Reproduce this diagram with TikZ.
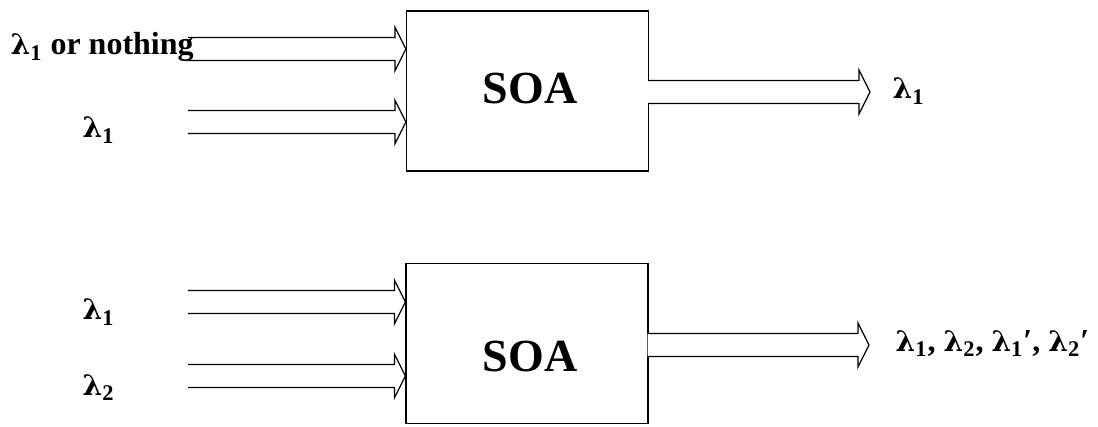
\documentclass[tikz,border=0pt]{standalone}
\usepackage{fontspec}
\setmainfont{Liberation Serif}
\newfontfamily\lamfont{DejaVu Serif}[Scale=0.88]
\newcommand{\lam}[1]{{\lamfont λ}\textsubscript{#1}}
\usetikzlibrary{calc}

% hollow arrow: body from #2 to the tip #3
\newcommand{\fatarrow}[3][]{%
  \draw[#1] ($(#2)+(0,-11.5)$) -- ($(#3)+(-11,-11.5)$) -- ($(#3)+(-11,-22)$) -- (#3)
    -- ($(#3)+(-11,22)$) -- ($(#3)+(-11,11.5)$) -- ($(#2)+(0,11.5)$);%
}

\begin{document}
\begin{tikzpicture}[x=0.5pt, y=-0.5pt, line width=0.6pt,
    soabox/.style={draw, minimum width=121pt, minimum height=80pt, inner sep=0pt},
    soatext/.style={font=\bfseries\fontsize{23}{26}\selectfont},
    lab/.style={font=\bfseries\fontsize{16}{18}\selectfont, inner sep=0pt}]
    \useasboundingbox (0,0) rectangle (1098,427);

    % Amplifiers
    \node[soabox] (soa1) at (527.5,91) {};
    \node[soabox] (soa2) at (527,343.5) {};
    \node[soatext] (name1) at (530,88) {SOA};
    \node[soatext] (name2) at (530,356) {SOA};

    % Input labels
    \node[lab, anchor=base west] (lin1) at (10,55) {\lam{1} or nothing};
    \node[lab, anchor=base west] (lin2) at (82,138) {\lam{1}};
    \node[lab, anchor=base west] (lin3) at (82,320) {\lam{1}};
    \node[lab, anchor=base west] (lin4) at (82,395) {\lam{2}};

    % Output labels
    \node[lab, anchor=base west] (lout1) at (892,99) {\lam{1}};
    \node[lab, anchor=base west] (lout2) at (895,351)
        {\lam{1}, \lam{2}, \lam{1}′, \lam{2}′};

    % Input arrows
    \coordinate (in1) at (188,49);
    \coordinate (in2) at (188,122);
    \coordinate (in3) at (188,302);
    \coordinate (in4) at (188,376);
    \foreach \i/\b in {1/soa1,2/soa1,3/soa2,4/soa2}
        \coordinate (tip\i) at (in\i -| \b.west);
    \foreach \i in {1,...,4} \fatarrow{in\i}{tip\i};

    % Output arrows
    \coordinate (out1) at (870,92);
    \coordinate (out2) at (869,345);
    \foreach \i in {1,2} {
        \coordinate (from\i) at ($(out\i -| soa\i.east)+(-1,0)$);
        \fatarrow[fill=white]{from\i}{out\i};
    }
\end{tikzpicture}
\end{document}
